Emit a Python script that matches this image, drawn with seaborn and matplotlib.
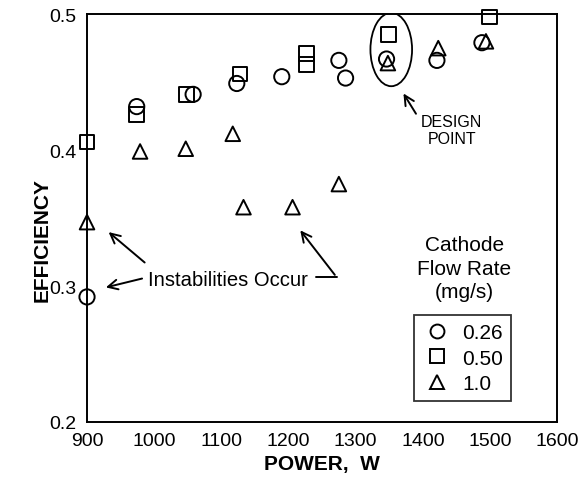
import matplotlib
matplotlib.use("Agg")
import matplotlib.pyplot as plt
from matplotlib.patches import Ellipse
from matplotlib.lines import Line2D
from matplotlib.ticker import MultipleLocator, FormatStrFormatter
import seaborn as sns
import pandas as pd

# Data
power_026 = [900, 974, 1058, 1123, 1190, 1275, 1285, 1346, 1421, 1488]
eff_026 = [0.292, 0.432, 0.441, 0.449, 0.454, 0.466, 0.453, 0.467, 0.466, 0.479]

power_050 = [900, 974, 1048, 1128, 1227, 1227, 1349, 1499]
eff_050 = [0.406, 0.426, 0.441, 0.456, 0.471, 0.463, 0.485, 0.498]

power_100 = [900, 979, 1047, 1117, 1133, 1206, 1275, 1348, 1423, 1494]
eff_100 = [0.347, 0.399, 0.401, 0.412, 0.358, 0.358, 0.375, 0.464, 0.475, 0.480]

flow_labels = ["0.26", "0.50", "1.0"]
markers = ["o", "s", "^"]

df = pd.concat([
    pd.DataFrame({"power": power_026, "eff": eff_026, "flow": flow_labels[0]}),
    pd.DataFrame({"power": power_050, "eff": eff_050, "flow": flow_labels[1]}),
    pd.DataFrame({"power": power_100, "eff": eff_100, "flow": flow_labels[2]}),
])

sns.set_style("white")
plt.rcParams["font.family"] = ["Liberation Sans", "DejaVu Sans"]
plt.rcParams["text.color"] = "black"
plt.rcParams["axes.labelcolor"] = "black"
plt.rcParams["xtick.color"] = "black"
plt.rcParams["ytick.color"] = "black"

fig = plt.figure(figsize=(5.84, 4.89), dpi=100)
ax = fig.add_axes([0.149, 0.135, 0.805, 0.834])

sizes = {"0.26": 120, "0.50": 110, "1.0": 110}
for lab, m in zip(flow_labels, markers):
    sub = df[df["flow"] == lab]
    sns.scatterplot(data=sub, x="power", y="eff", marker=m, s=sizes[lab],
                    facecolor="none", edgecolor="black", linewidth=1.4,
                    ax=ax, legend=False, zorder=3, clip_on=False)
for coll in ax.collections:
    coll.set_facecolor("none")
    coll.set_edgecolor("black")

ax.set_xlim(900, 1600)
ax.set_ylim(0.2, 0.5)
ax.xaxis.set_major_locator(MultipleLocator(100))
ax.xaxis.set_minor_locator(MultipleLocator(50))
ax.yaxis.set_major_locator(MultipleLocator(0.1))
ax.yaxis.set_minor_locator(MultipleLocator(0.05))
ax.yaxis.set_major_formatter(FormatStrFormatter("%.1f"))

for s in ax.spines.values():
    s.set_color("black")
    s.set_linewidth(1.4)

ax.tick_params(axis="x", which="major", direction="in", length=6, width=1.3,
               labelsize=14, pad=7, colors="black")
ax.tick_params(axis="x", which="minor", direction="in", length=3, width=1.1)
ax.tick_params(axis="y", which="major", direction="inout", length=9, width=1.3,
               labelsize=14, pad=3, colors="black")
ax.tick_params(axis="y", which="minor", direction="in", length=4, width=1.1)

ax.set_xlabel("POWER,  W", fontsize=15, fontweight="bold", labelpad=4)
ax.set_ylabel("EFFICIENCY", fontsize=15, fontweight="bold")
ax.yaxis.set_label_coords(-0.076, 0.449)

# Design point ellipse and annotation
ax.add_patch(Ellipse((1353, 0.474), 62, 0.054, fill=False, edgecolor="black",
                     linewidth=1.3, zorder=2))
arrow = dict(arrowstyle="->,head_width=0.35,head_length=0.7", color="black", lw=1.4)
ax.annotate("", xy=(1369, 0.4434), xytext=(1392, 0.425), arrowprops=arrow)
ax.text(1443, 0.4147, "DESIGN\nPOINT", fontsize=11.5, ha="center", va="center",
        linespacing=1.15)

# Instabilities annotation
ax.text(991, 0.305, "Instabilities Occur", fontsize=14.6, ha="left", va="center")
ax.annotate("", xy=(929, 0.341), xytext=(989, 0.316), arrowprops=arrow)
ax.annotate("", xy=(924, 0.2985), xytext=(986, 0.306), arrowprops=arrow)
ax.plot([1241, 1271.5], [0.3066, 0.3066], color="black", lw=1.4)
ax.annotate("", xy=(1215, 0.3426), xytext=(1271.5, 0.3066), arrowprops=arrow)

# Legend title and box
ax.text(1462, 0.3132, "Cathode\nFlow Rate\n(mg/s)", fontsize=15, ha="center",
        va="center", linespacing=1.3)
handles = [Line2D([], [], linestyle="none", marker=m, markersize=10,
                  markerfacecolor="none", markeredgecolor="black",
                  markeredgewidth=1.4, label=l)
           for m, l in zip(markers, flow_labels)]
leg = ax.legend(handles=handles, loc="lower left", bbox_to_anchor=(0.696, 0.051),
                frameon=True, fancybox=False, fontsize=15, handlelength=1.4,
                handletextpad=0.5, borderpad=0.4, labelspacing=0.3,
                borderaxespad=0)
leg.get_frame().set_edgecolor("black")
leg.get_frame().set_linewidth(1.3)

fig.savefig("out.png", dpi=100, facecolor="white")
